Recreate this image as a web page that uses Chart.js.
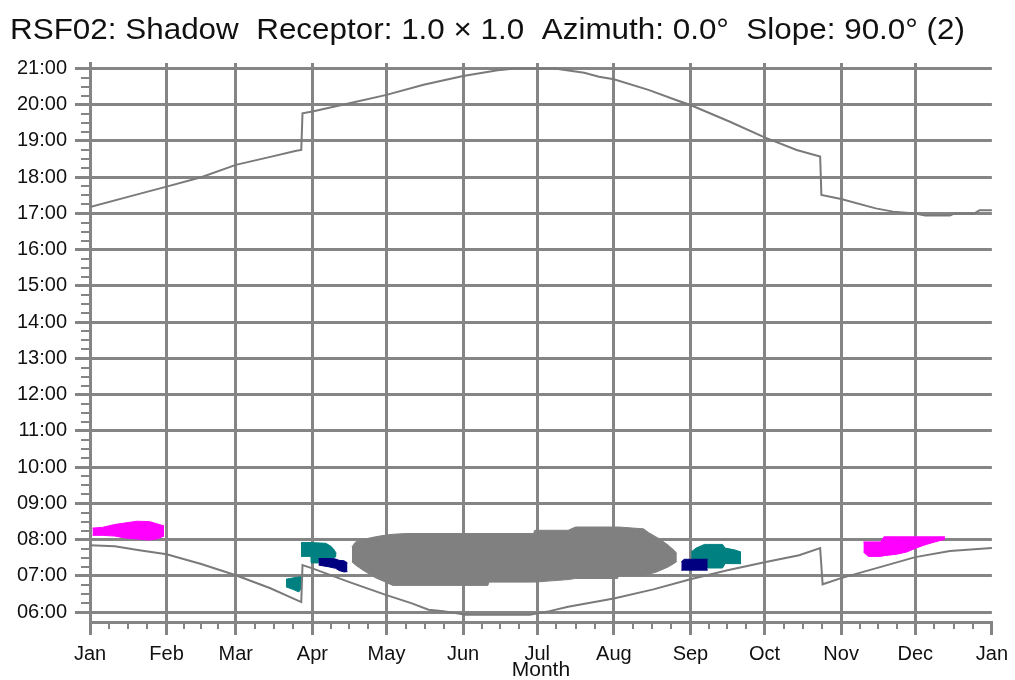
<!DOCTYPE html>
<html><head><meta charset="utf-8">
<script src="https://cdn.jsdelivr.net/npm/chart.js@4.4.0/dist/chart.umd.min.js"></script>
<style>html,body{margin:0;padding:0;background:#fff;}#wrap{width:1015px;height:680px;}</style>
</head><body><div id="wrap"><canvas id="c" width="1015" height="680"></canvas></div>
<script>
const TITLE = 'RSF02: Shadow  Receptor: 1.0 × 1.0  Azimuth: 0.0°  Slope: 90.0° (2)';
const X_TITLE = 'Month';
const monthStartDays = [0,31,59,90,120,151,181,212,243,273,304,334,365];
const monthLabels = ['Jan','Feb','Mar','Apr','May','Jun','Jul','Aug','Sep','Oct','Nov','Dec','Jan'];
const hourTicks = [6,7,8,9,10,11,12,13,14,15,16,17,18,19,20,21];
const hourLabels = ['06:00','07:00','08:00','09:00','10:00','11:00','12:00','13:00','14:00','15:00','16:00','17:00','18:00','19:00','20:00','21:00'];

// Sunset (upper curve), hours
const sunsetDays  = [0, 15, 31, 45, 59, 73, 83.5, 85.5, 86, 90, 105, 120, 135, 151, 165, 172, 188, 200, 206, 212, 226, 238, 243, 259, 273, 286, 295.5, 296, 304, 318, 325, 334, 338, 348, 350, 358, 360, 365];
const sunsetHours = [17.18, 17.45, 17.74, 18.0, 18.34, 18.56, 18.73, 18.75, 19.76, 19.81, 20.04, 20.27, 20.55, 20.79, 20.95, 21.0, 21.0, 20.88, 20.77, 20.70, 20.41, 20.11, 19.99, 19.53, 19.10, 18.75, 18.57, 17.51, 17.40, 17.14, 17.05, 17.0, 16.94, 16.94, 17.0, 17.0, 17.09, 17.09];

// Sunrise (lower curve), hours
const sunriseDays  = [0, 10, 20, 31, 45, 59, 73, 85.5, 86, 90, 105, 120, 130, 137, 143, 152, 178, 186, 193.5, 212, 228, 243, 258, 273, 287, 295.5, 296.5, 304, 319, 334, 348, 365];
const sunriseHours = [7.85, 7.82, 7.71, 7.60, 7.33, 7.02, 6.66, 6.28, 7.30, 7.21, 6.83, 6.47, 6.25, 6.07, 6.03, 5.93, 5.93, 6.03, 6.15, 6.38, 6.63, 6.91, 7.16, 7.38, 7.57, 7.77, 6.77, 6.94, 7.23, 7.52, 7.69, 7.77];

// Shadow periods: day, upper time, lower time
const janMagentaDays = [1, 5, 10, 14, 19, 24, 27, 30];
const janMagentaTop  = [8.32, 8.34, 8.42, 8.46, 8.51, 8.5, 8.44, 8.38];
const janMagentaBot  = [8.12, 8.12, 8.1, 8.05, 8.02, 7.99, 8.02, 8.1];

const marTealDays = [79.3, 82.5, 84.5, 85.8];
const marTealTop  = [6.91, 6.95, 6.97, 6.97];
const marTealBot  = [6.70, 6.62, 6.56, 6.68];

const aprTealDays = [85.4, 89.4, 89.5, 95.4, 97.5, 98.8, 99.7];
const aprTealTop  = [7.92, 7.92, 7.92, 7.9, 7.82, 7.72, 7.62];
const aprTealBot  = [7.54, 7.54, 7.36, 7.36, 7.45, 7.5, 7.55];

const aprNavyDays = [92.5, 96.8, 99.4, 100.8, 102.8, 104.2];
const aprNavyTop  = [7.48, 7.48, 7.47, 7.43, 7.42, 7.36];
const aprNavyBot  = [7.30, 7.25, 7.21, 7.15, 7.11, 7.12];

const grayDays = [106, 107.5, 110, 115.5, 119, 122.5, 128, 161, 161.5, 179.5, 180, 193.5, 196.5, 213.5, 214, 224, 226, 229, 231, 234, 236.5, 237.5];
const grayTop  = [7.8, 7.94, 8.0, 8.08, 8.12, 8.15, 8.17, 8.17, 8.17, 8.17, 8.26, 8.26, 8.35, 8.35, 8.35, 8.3, 8.2, 8.08, 8.0, 7.85, 7.7, 7.62];
const grayBot  = [7.39, 7.30, 7.18, 6.95, 6.85, 6.74, 6.74, 6.74, 6.83, 6.83, 6.83, 6.9, 6.93, 6.93, 7.02, 7.02, 7.05, 7.1, 7.16, 7.25, 7.35, 7.4];

const sepNavyDays = [239.3, 240.5, 250];
const sepNavyTop  = [7.39, 7.46, 7.46];
const sepNavyBot  = [7.16, 7.16, 7.16];

const sepTealDays = [243.3, 245.3, 248.7, 250, 256, 257, 260.8, 263.5];
const sepTealTop  = [7.66, 7.77, 7.87, 7.87, 7.87, 7.77, 7.72, 7.66];
const sepTealBot  = [7.45, 7.4, 7.4, 7.22, 7.22, 7.34, 7.34, 7.34];

const decMagentaDays = [313, 315, 320, 321.3, 326.5, 330.5, 334, 337.5, 342, 346];
const decMagentaTop  = [7.94, 7.94, 7.94, 8.08, 8.08, 8.08, 8.08, 8.08, 8.08, 8.08];
const decMagentaBot  = [7.66, 7.54, 7.54, 7.56, 7.6, 7.66, 7.76, 7.85, 7.94, 8.01];

const GRID = '#858585';
const FONT = '"Liberation Sans", Arial, Helvetica, sans-serif';
Chart.defaults.font.family = FONT;

function pts(days, vals) { return days.map((d, i) => ({ x: d, y: vals[i] })); }
const datasets = [];
function addBlob(days, top, bot, color, order) {
  datasets.push({ data: pts(days, top), borderColor: color, backgroundColor: color, borderWidth: 1, fill: false, order });
  datasets.push({ data: pts(days, bot), borderColor: color, backgroundColor: color, borderWidth: 1, fill: '-1', order });
}
datasets.push({ data: pts(sunsetDays, sunsetHours), borderColor: '#7a7a7a', borderWidth: 2, fill: false, order: 0 });
datasets.push({ data: pts(sunriseDays, sunriseHours), borderColor: '#7a7a7a', borderWidth: 2, fill: false, order: 0 });
addBlob(janMagentaDays, janMagentaTop, janMagentaBot, '#ff00ff', 2);
addBlob(marTealDays, marTealTop, marTealBot, '#008080', 2);
addBlob(aprTealDays, aprTealTop, aprTealBot, '#008080', 2);
addBlob(aprNavyDays, aprNavyTop, aprNavyBot, '#000080', 1);
addBlob(grayDays, grayTop, grayBot, '#808080', 2);
addBlob(sepTealDays, sepTealTop, sepTealBot, '#008080', 2);
addBlob(sepNavyDays, sepNavyTop, sepNavyBot, '#000080', 1);
addBlob(decMagentaDays, decMagentaTop, decMagentaBot, '#ff00ff', 2);

const minorTicks = {
  id: 'minorTicks',
  afterDraw(chart) {
    const { ctx, chartArea, scales: { x, y } } = chart;
    ctx.save();
    ctx.strokeStyle = GRID; ctx.lineWidth = 2;
    ctx.beginPath();
    for (let q = 25; q <= 2100; q += 25) {
      const h = q / 100;
      if (h < 6 || q % 100 === 0) continue;
      const py = Math.round(y.getPixelForValue(h));
      ctx.moveTo(chartArea.left - 9, py); ctx.lineTo(chartArea.left, py);
    }
    for (let m = 0; m < 12; m++) {
      const a = monthStartDays[m], b = monthStartDays[m + 1];
      for (let k = 1; k < 4; k++) {
        const px = Math.round(x.getPixelForValue(a + (b - a) * k / 4));
        ctx.moveTo(px, chartArea.bottom); ctx.lineTo(px, chartArea.bottom + 7);
      }
    }
    ctx.stroke();
    ctx.restore();
  }
};
const titleText = {
  id: 'titleText',
  afterDraw(chart) {
    const ctx = chart.ctx;
    ctx.save();
    ctx.font = '30px ' + FONT;
    ctx.fillStyle = '#111';
    ctx.textBaseline = 'middle';
    ctx.textAlign = 'left';
    const w = ctx.measureText(TITLE).width;
    ctx.translate(10, 31);
    ctx.scale(955 / w, 1);
    ctx.fillText(TITLE, 0, 0);
    ctx.restore();
  }
};

new Chart(document.getElementById('c'), {
  type: 'line',
  data: { datasets },
  options: {
    responsive: false, animation: false, devicePixelRatio: 1,
    layout: { padding: { left: 10, right: 20, top: 63, bottom: 0 }, autoPadding: false },
    plugins: { legend: { display: false }, tooltip: { enabled: false }, title: { display: false } },
    elements: { point: { radius: 0, hoverRadius: 0 }, line: { tension: 0 } },
    scales: {
      x: {
        type: 'linear', min: 0, max: 365,
        afterBuildTicks: s => { s.ticks = monthStartDays.map(v => ({ value: v })); },
        afterFit: s => { s.height = 58; },
        ticks: { autoSkip: false, maxRotation: 0, minRotation: 0, padding: 7, color: '#111', font: { size: 20 },
                 callback: (v, i) => monthLabels[i] },
        grid: { color: c => (c.tick && c.tick.value === 365) ? 'rgba(0,0,0,0)' : GRID, tickColor: GRID, lineWidth: 3, tickLength: 13 },
        border: { display: true, color: GRID, width: 3 },
        title: { display: true, text: X_TITLE, color: '#111', font: { size: 21 }, padding: { top: 0, bottom: -3 } }
      },
      y: {
        type: 'linear', min: 5.73, max: 21.15,
        afterBuildTicks: s => { s.ticks = hourTicks.map(v => ({ value: v })); },
        afterFit: s => { s.width = 80; },
        ticks: { autoSkip: false, padding: 8, color: '#111', font: { size: 20 },
                 callback: (v, i) => hourLabels[i] },
        grid: { color: GRID, tickColor: GRID, lineWidth: 3, tickLength: 15 },
        border: { display: true, color: GRID, width: 3 }
      }
    }
  },
  plugins: [minorTicks, titleText]
});
</script>
</body></html>
